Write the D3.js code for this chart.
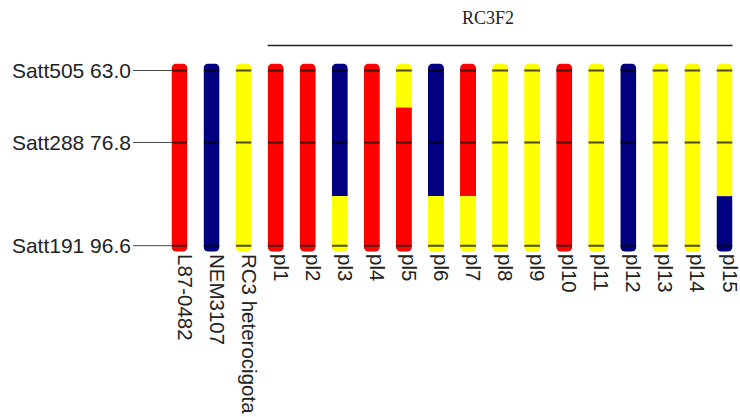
<!DOCTYPE html>
<html>
<head>
<meta charset="utf-8">
<script src="https://cdn.jsdelivr.net/npm/d3@7"></script>
<style>
  html, body { margin: 0; padding: 0; background: #fff; }
  svg { display: block; }
</style>
</head>
<body>
<svg id="chart" width="740" height="417"></svg>
<script>
// Markers on the linkage group (name, position in cM)
const markerNames = ["Satt505", "Satt288", "Satt191"];
const markerPositions = [63.0, 76.8, 96.6];

// Individuals: two parents, the heterozygous RC3 and the RC3F2 plants
const individuals = ["L87-0482", "NEM3107", "RC3 heterocigota",
  "pl1", "pl2", "pl3", "pl4", "pl5", "pl6", "pl7", "pl8", "pl9",
  "pl10", "pl11", "pl12", "pl13", "pl14", "pl15"];

// Estimated crossover points (cM) separating the three genotype blocks
const blockBreaks = [70.1, 87.1];

// Genotype per block (A = L87-0482 allele, B = NEM3107 allele, H = heterozygous)
const genotypes = [
  ["A", "A", "A"], // L87-0482
  ["B", "B", "B"], // NEM3107
  ["H", "H", "H"], // RC3 heterocigota
  ["A", "A", "A"], // pl1
  ["A", "A", "A"], // pl2
  ["B", "B", "H"], // pl3
  ["A", "A", "A"], // pl4
  ["H", "A", "A"], // pl5
  ["B", "B", "H"], // pl6
  ["A", "A", "H"], // pl7
  ["H", "H", "H"], // pl8
  ["H", "H", "H"], // pl9
  ["A", "A", "A"], // pl10
  ["H", "H", "H"], // pl11
  ["B", "B", "B"], // pl12
  ["H", "H", "H"], // pl13
  ["H", "H", "H"], // pl14
  ["H", "H", "B"]  // pl15
];

const groupLabel = "RC3F2";
const groupMembers = individuals.slice(3);

const svg = d3.select("#chart");

const x = d3.scalePoint().domain(individuals).range([179.5, 724.5]);
const y = d3.scaleLinear().domain([markerPositions[0], markerPositions[markerPositions.length - 1]]).range([70.5, 245.7]);
const color = d3.scaleOrdinal().domain(["A", "B", "H"]).range(["#ff0000", "#000080", "#ffff00"]);

const barW = 16;
const capTop = 7, capBottom = 6;

// Block boundaries in cM
const bounds = [markerPositions[0], ...blockBreaks, markerPositions[markerPositions.length - 1]];

const defs = svg.append("defs");

individuals.forEach((name, i) => {
  const cx = x(name);
  const top = y(bounds[0]) - capTop;
  const bottom = y(bounds[bounds.length - 1]) + capBottom;
  const clipId = "clip" + i;
  defs.append("clipPath").attr("id", clipId)
    .append("rect")
    .attr("x", cx - barW / 2).attr("y", top)
    .attr("width", barW).attr("height", bottom - top)
    .attr("rx", 5).attr("ry", 5);

  const g = svg.append("g").attr("clip-path", `url(#${clipId})`);

  // Merge neighbouring blocks of the same genotype into one segment
  const segs = [];
  genotypes[i].forEach((gt, k) => {
    const last = segs[segs.length - 1];
    if (last && last.gt === gt) last.k1 = k + 1;
    else segs.push({ gt, k0: k, k1: k + 1 });
  });
  segs.forEach(s => {
    s.y0 = s.k0 === 0 ? top : y(bounds[s.k0]);
    s.y1 = s.k1 === bounds.length - 1 ? bottom : y(bounds[s.k1]);
  });

  g.selectAll("rect.seg").data(segs).enter().append("rect")
    .attr("class", "seg")
    .attr("x", cx - barW / 2)
    .attr("y", d => d.y0)
    .attr("width", barW)
    .attr("height", d => d.y1 - d.y0)
    .attr("fill", d => color(d.gt));

  // Marker ticks across the chromosome bar
  g.selectAll("line.tick").data(markerPositions).enter().append("line")
    .attr("class", "tick")
    .attr("x1", cx - barW / 2).attr("x2", cx + barW / 2)
    .attr("y1", d => y(d)).attr("y2", d => y(d))
    .attr("stroke", "#000").attr("stroke-opacity", 0.7)
    .attr("stroke-width", 2);
});

// Marker labels and leader lines on the left
const firstLeft = x(individuals[0]) - barW / 2;
svg.selectAll("line.leader").data(markerPositions).enter().append("line")
  .attr("class", "leader")
  .attr("x1", 133).attr("x2", firstLeft)
  .attr("y1", d => y(d)).attr("y2", d => y(d))
  .attr("stroke", "#444").attr("stroke-width", 1);

svg.selectAll("text.marker").data(markerPositions).enter().append("text")
  .attr("class", "marker")
  .attr("x", 131)
  .attr("y", d => y(d))
  .attr("dy", "0.35em")
  .attr("text-anchor", "end")
  .attr("font-family", "Liberation Sans, Arial, sans-serif")
  .attr("font-size", 21)
  .attr("fill", "#222")
  .text((d, i) => `${markerNames[i]} ${d.toFixed(1)}`);

// Individual names, rotated beneath the bars
svg.selectAll("text.ind").data(individuals).enter().append("text")
  .attr("class", "ind")
  .attr("transform", d => `translate(${x(d) - 2},254) rotate(90)`)
  .attr("font-family", "Liberation Sans, Arial, sans-serif")
  .attr("font-size", 20.5)
  .attr("fill", "#222")
  .text(d => d);

// Group bracket over the RC3F2 plants
const gx0 = x(groupMembers[0]) - barW / 2;
const gx1 = x(groupMembers[groupMembers.length - 1]) + barW / 2;
svg.append("line")
  .attr("x1", gx0).attr("x2", gx1)
  .attr("y1", 45.5).attr("y2", 45.5)
  .attr("stroke", "#222").attr("stroke-width", 1.5);

svg.append("text")
  .attr("x", (gx0 + gx1) / 2 - 12)
  .attr("y", 24)
  .attr("text-anchor", "middle")
  .attr("font-family", "Liberation Serif, Times New Roman, serif")
  .attr("font-size", 18)
  .attr("fill", "#222")
  .text(groupLabel);
</script>
</body>
</html>
